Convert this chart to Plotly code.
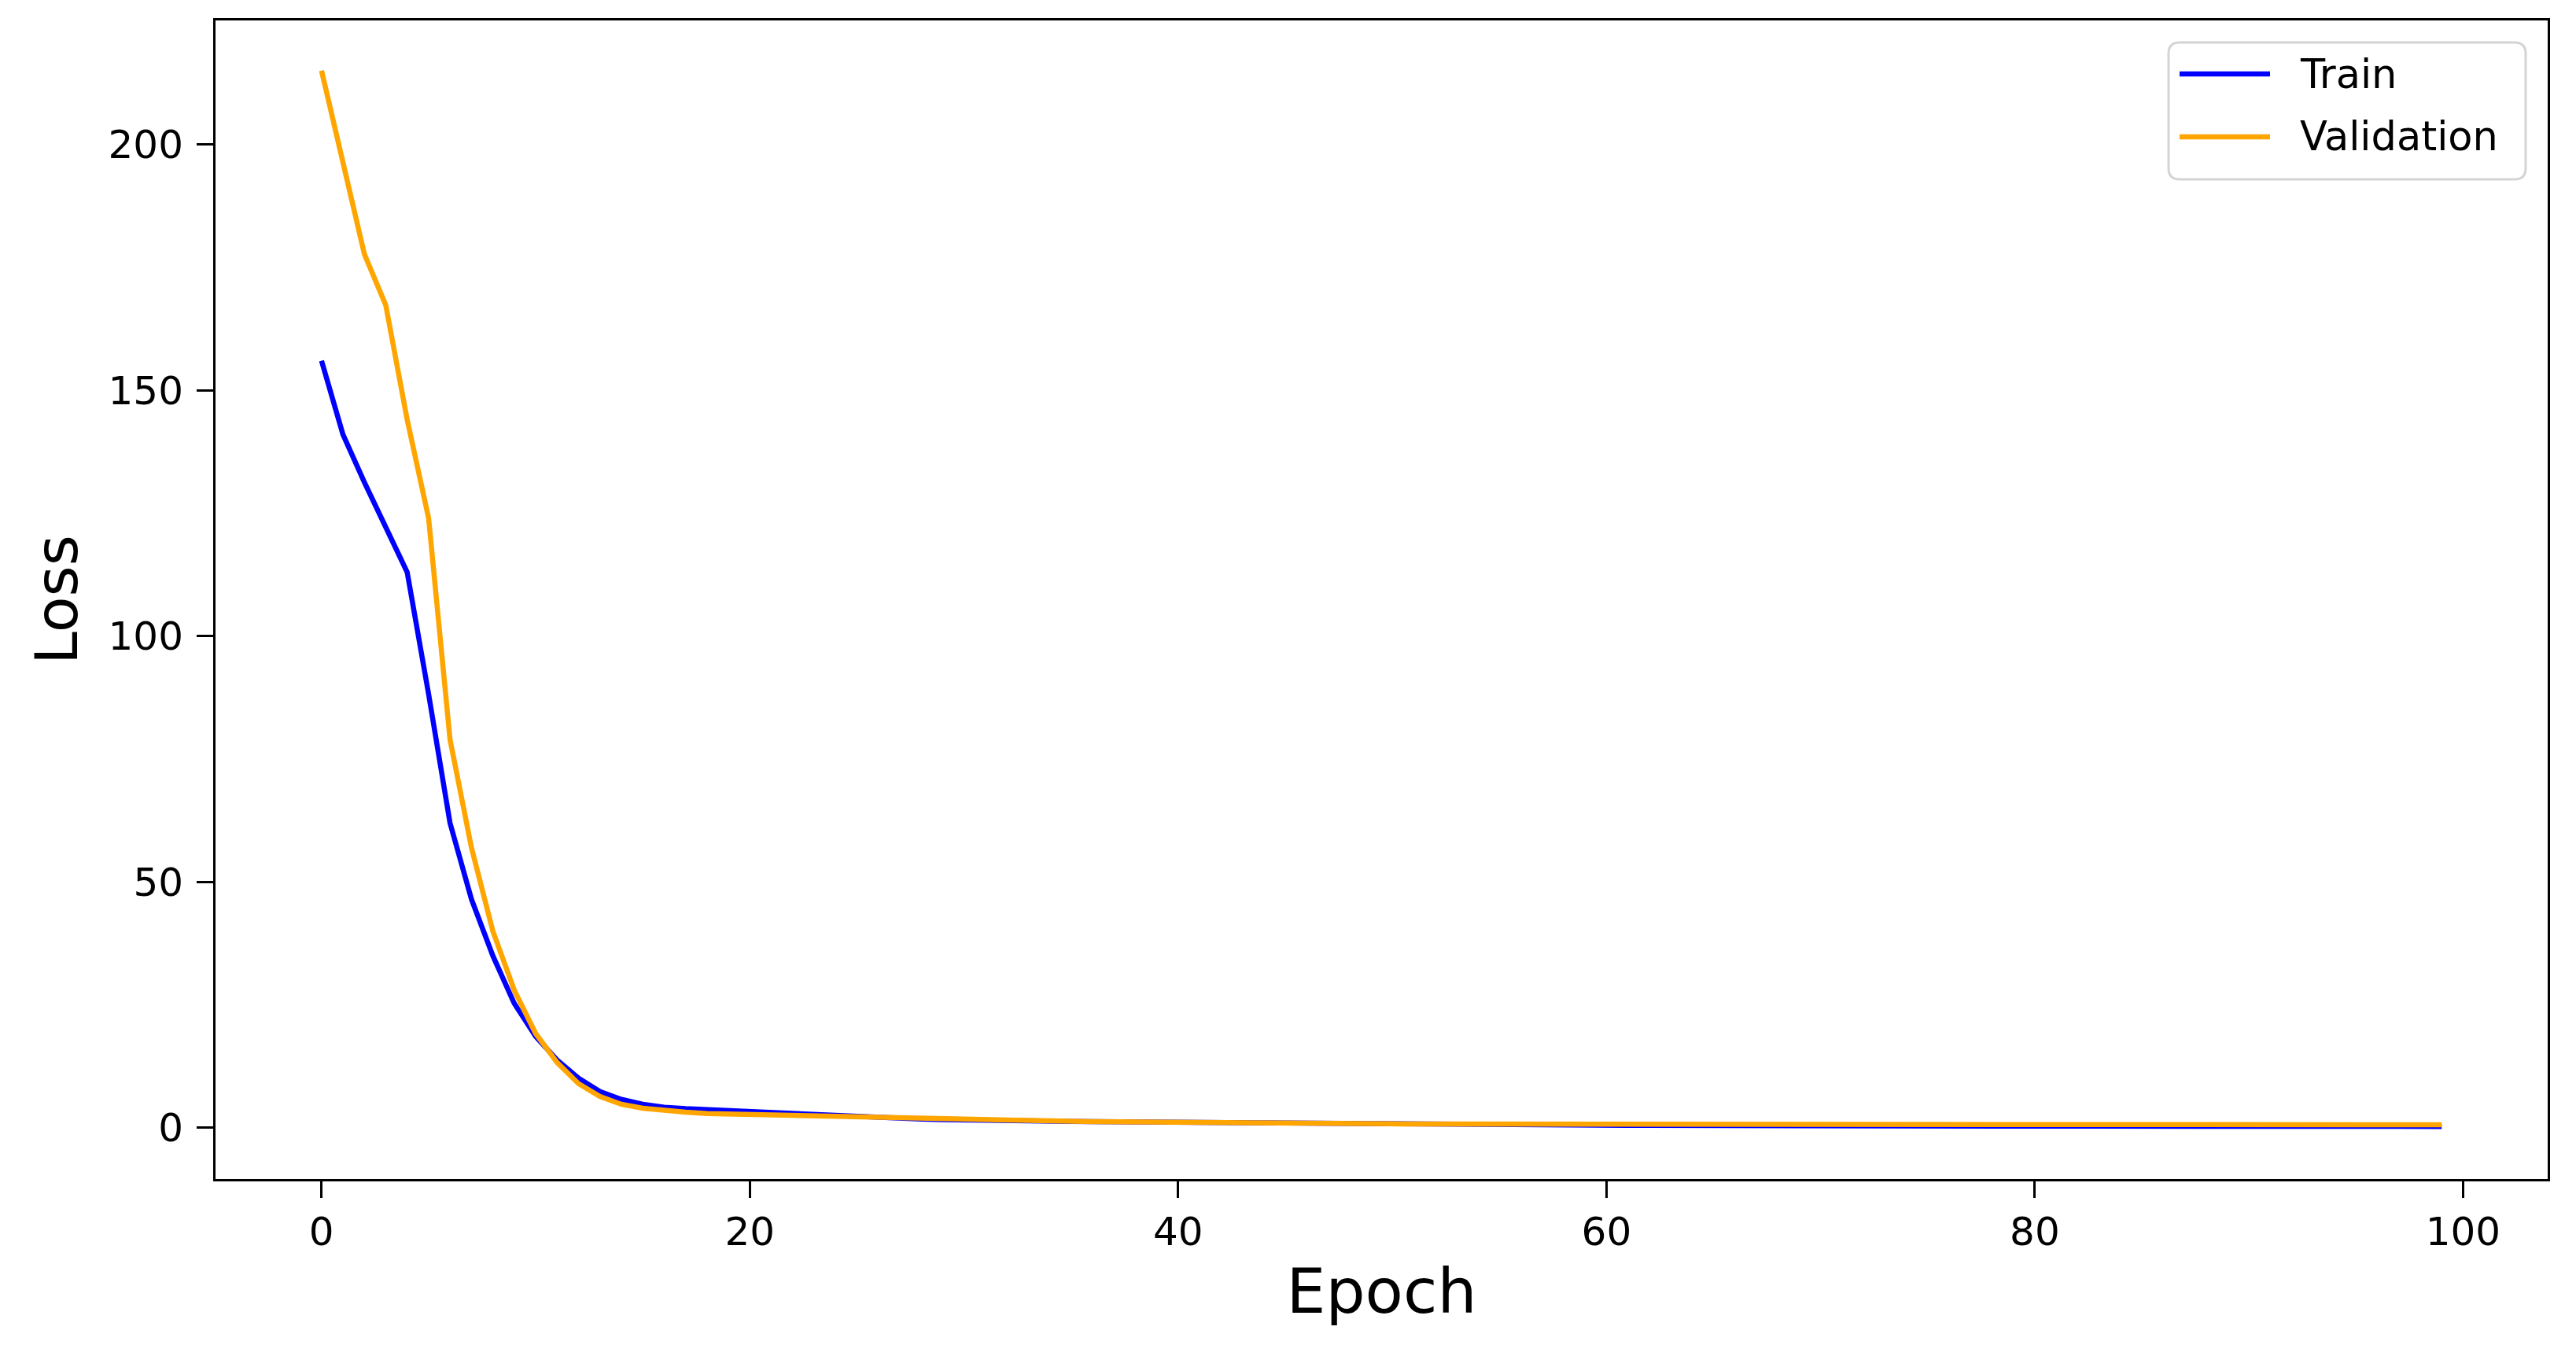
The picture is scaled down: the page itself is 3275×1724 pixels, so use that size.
import plotly.graph_objects as go

epochs = list(range(100))

train_loss = [
    156.0, 141.0, 131.3, 122.2, 113.0, 88.2, 62.0, 46.5, 35.0, 25.3,
    18.6, 13.8, 10.1, 7.4, 5.8, 4.8, 4.2, 3.9, 3.7, 3.4,
    3.2, 3.0, 2.8, 2.6, 2.4, 2.25, 2.1, 1.95, 1.78, 1.66,
    1.56, 1.5, 1.45, 1.4, 1.36, 1.32, 1.28, 1.24, 1.2, 1.16,
    1.12, 1.08, 1.05, 1.02, 0.99, 0.96, 0.93, 0.9, 0.87, 0.84,
    0.81, 0.78, 0.75, 0.72, 0.69, 0.66, 0.63, 0.6, 0.58, 0.56,
    0.54, 0.52, 0.5, 0.48, 0.47, 0.46, 0.45, 0.44, 0.43, 0.42,
    0.41, 0.4, 0.4, 0.39, 0.38, 0.38, 0.37, 0.37, 0.36, 0.36,
    0.35, 0.35, 0.34, 0.34, 0.34, 0.33, 0.33, 0.33, 0.32, 0.32,
    0.32, 0.31, 0.31, 0.31, 0.3, 0.3, 0.3, 0.3, 0.29, 0.29,
]

val_loss = [
    215.0, 196.5, 177.7, 167.3, 144.0, 124.0, 79.0, 57.0, 40.0, 28.0,
    19.2, 13.3, 9.0, 6.4, 4.8, 4.0, 3.5, 3.2, 2.9, 2.8,
    2.6, 2.5, 2.4, 2.3, 2.2, 2.1, 2.0, 1.92, 1.84, 1.76,
    1.68, 1.6, 1.53, 1.46, 1.4, 1.34, 1.28, 1.23, 1.18, 1.13,
    1.09, 1.05, 1.01, 0.98, 0.95, 0.92, 0.9, 0.88, 0.86, 0.84,
    0.82, 0.8, 0.79, 0.78, 0.77, 0.76, 0.75, 0.74, 0.73, 0.72,
    0.72, 0.71, 0.71, 0.7, 0.7, 0.7, 0.69, 0.69, 0.69, 0.68,
    0.68, 0.68, 0.68, 0.67, 0.67, 0.67, 0.67, 0.66, 0.66, 0.66,
    0.66, 0.66, 0.65, 0.65, 0.65, 0.65, 0.65, 0.65, 0.64, 0.64,
    0.64, 0.64, 0.64, 0.64, 0.63, 0.63, 0.63, 0.63, 0.63, 0.63,
]

series_names = ["Train", "Validation"]
series_colors = ["#0000ff", "#ffa500"]
x_ticks = [0, 20, 40, 60, 80, 100]
y_ticks = [0, 50, 100, 150, 200]

# page offset of the plot div (default body margin)
OFF = 8
W, H = 3259, 1708
ML, MR, MT, MB = 266, 28, 18, 217
PW, PH = W - ML - MR, H - MT - MB
PLOT_LEFT_PAGE = ML + OFF
PLOT_BOTTOM_PAGE = MT + PH + OFF

FONT = "DejaVu Sans"

fig = go.Figure()
for name, ys, col in zip(series_names, [train_loss, val_loss], series_colors):
    fig.add_trace(go.Scatter(x=epochs, y=ys, mode="lines", name=name,
                             line=dict(color=col, width=6.5), showlegend=False))

axis_common = dict(
    showline=True, linecolor="black", linewidth=3, mirror=True,
    ticks="outside", ticklen=21, tickwidth=3, tickcolor="black",
    showgrid=False, zeroline=False,
    tickfont=dict(family=FONT, size=50, color="black"),
)

fig.update_xaxes(range=[-4.95, 103.95], tickvals=x_ticks,
                 title=dict(text="Epoch", font=dict(family=FONT, size=79, color="black"), standoff=20),
                 **axis_common)
fig.update_yaxes(range=[-10.4, 225.2], tickvals=y_ticks, ticklabelstandoff=7,
                 title=dict(text="Loss", font=dict(family=FONT, size=75, color="black"), standoff=15),
                 **axis_common)


# legend (frame + key lines + text), positioned in page pixels
def px_x(p):
    return (p - PLOT_LEFT_PAGE) / PW


def px_y(p):
    return (PLOT_BOTTOM_PAGE - p) / PH


bx0, bx1, by0, by1 = 2757, 3211, 54, 228
r = 14
rx, ry = r / PW, r / PH
X0, X1, Y0, Y1 = px_x(bx0), px_x(bx1), px_y(by1), px_y(by0)
path = (f"M{X0+rx},{Y1} L{X1-rx},{Y1} Q{X1},{Y1} {X1},{Y1-ry} "
        f"L{X1},{Y0+ry} Q{X1},{Y0} {X1-rx},{Y0} L{X0+rx},{Y0} "
        f"Q{X0},{Y0} {X0},{Y0+ry} L{X0},{Y1-ry} Q{X0},{Y1} {X0+rx},{Y1} Z")
fig.add_shape(type="path", path=path, xref="paper", yref="paper",
              line=dict(color="#d4d4d4", width=3), fillcolor="rgba(255,255,255,0.8)", layer="above")

row_y = [94, 174]
for name, col, yy in zip(series_names, series_colors, row_y):
    fig.add_shape(type="line", xref="paper", yref="paper",
                  x0=px_x(2771), x1=px_x(2886), y0=px_y(yy), y1=px_y(yy),
                  line=dict(color=col, width=6.5), layer="above")
    fig.add_annotation(x=px_x(2922), y=px_y(yy), xref="paper", yref="paper",
                       text=name, showarrow=False, xanchor="left", yanchor="middle",
                       font=dict(family=FONT, size=51, color="black"))

fig.update_layout(
    width=W, height=H,
    margin=dict(l=ML, r=MR, t=MT, b=MB, pad=0),
    paper_bgcolor="white", plot_bgcolor="white",
    showlegend=False,
)

fig.write_html("out.html")
